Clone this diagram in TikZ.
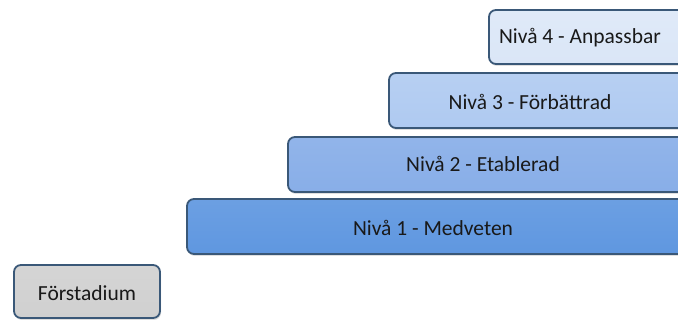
\documentclass[tikz,border=0pt]{standalone}
\usepackage{fontspec}
\setmainfont{Carlito}
\usetikzlibrary{shadows}
\definecolor{edge}{HTML}{3A5878}
\definecolor{lvfour}{HTML}{DAE6F7}
\definecolor{lvthree}{HTML}{AFCAF1}
\definecolor{lvtwo}{HTML}{88AEE8}
\definecolor{lvone}{HTML}{5F97E0}
\definecolor{pre}{HTML}{D0D0D0}
\tikzset{
  stepbox/.style={draw=edge, line width=1.8pt, rounded corners=7pt,
    drop shadow={opacity=0.25, shadow xshift=1pt, shadow yshift=-2pt}},
  steplabel/.style={font=\fontsize{21.5}{24}\selectfont, text=black!90, inner sep=0pt}
}
\begin{document}
\begin{tikzpicture}[x=1pt, y=-1pt]
  \useasboundingbox (0,0) rectangle (678,320);
  \begin{scope}
    \clip (0,0) rectangle (678,320);
    % staircase of levels, each running off the right edge
    \draw[stepbox, top color=lvfour!85!white, bottom color=lvfour] (489,10) rectangle (700,64);
    \draw[stepbox, top color=lvthree!90!white, bottom color=lvthree] (389,73) rectangle (700,128);
    \draw[stepbox, top color=lvtwo!92!white, bottom color=lvtwo] (288,137) rectangle (700,192);
    \draw[stepbox, top color=lvone!92!white, bottom color=lvone] (187,199) rectangle (700,254);
    \draw[stepbox, top color=pre!90!white, bottom color=pre] (14,265) rectangle (160,318);
  \end{scope}
  \node[steplabel] (n4) at (580,38) {Nivå 4 - Anpassbar};
  \node[steplabel] (n3) at (530,102) {Nivå 3 - Förbättrad};
  \node[steplabel] (n2) at (483,164) {Nivå 2 - Etablerad};
  \node[steplabel] (n1) at (433,228) {Nivå 1 - Medveten};
  \node[steplabel] (n0) at (87,293) {Förstadium};
\end{tikzpicture}
\end{document}
